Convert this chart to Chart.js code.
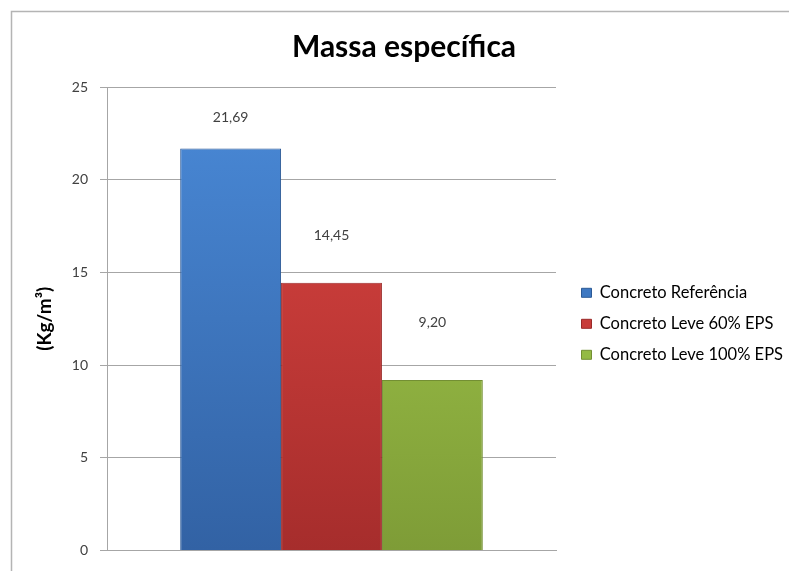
<!DOCTYPE html>
<html>
<head>
<meta charset="utf-8">
<script src="https://cdn.jsdelivr.net/npm/chart.js@4.4.1/dist/chart.umd.min.js"></script>
<style>
  html, body { margin: 0; padding: 0; background: #fff; }
</style>
</head>
<body>
<canvas id="massa-chart" width="789" height="571"></canvas>
<script>
var seriesNames = ['Concreto Referência', 'Concreto Leve 60% EPS', 'Concreto Leve 100% EPS'];
var seriesValues = [21.69, 14.45, 9.20];
var yTicks = [0, 5, 10, 15, 20, 25];

// excel 2007 style shading, top -> bottom
var topColors = ['#4a8ad8', '#de4642', '#a8d04e'];
var bottomColors = ['#3262a4', '#a62d2c', '#7e9c37'];
var midColors = ['#3e78c2', '#c83c3a', '#94ba44'];
var edgeColors = ['#2c5a96', '#9a2a28', '#738f33'];
var labelOffsets = [31, 47, 58];

function barGradient(i) {
  return function(context) {
    var chart = context.chart;
    var area = chart.chartArea;
    if (!area) return midColors[i];
    var g = chart.ctx.createLinearGradient(0, area.top, 0, area.bottom);
    g.addColorStop(0, topColors[i]);
    g.addColorStop(1, bottomColors[i]);
    return g;
  };
}

var datasets = [];
for (var i = 0; i < seriesNames.length; i++) {
  datasets.push({
    label: seriesNames[i],
    data: [seriesValues[i]],
    backgroundColor: barGradient(i),
    borderColor: edgeColors[i],
    borderWidth: 1,
    barPercentage: 1,
    categoryPercentage: 0.674
  });
}

// grey frame round the chart (only left/top are visible in the crop)
var framePlugin = {
  id: 'frame',
  beforeDraw: function(chart) {
    var ctx = chart.ctx;
    ctx.save();
    ctx.fillStyle = '#ffffff';
    ctx.fillRect(0, 0, chart.width, chart.height);
    ctx.strokeStyle = '#b4b4b4';
    ctx.lineWidth = 1.5;
    ctx.strokeRect(11.5, 11.5, chart.width + 20, chart.height + 20);
    ctx.restore();
  }
};

// legend centred on the plot area, title nudged left like the original
var placeBoxes = {
  id: 'placeBoxes',
  afterLayout: function(chart) {
    var lg = chart.legend;
    lg.top = chart.chartArea.top + 10;
    lg.bottom = chart.chartArea.bottom;
    lg.left += 4;
    lg.right += 4;
    chart.titleBlock.left -= 14;
  }
};

// value labels above the bars
var valueLabels = {
  id: 'valueLabels',
  afterDatasetsDraw: function(chart) {
    var ctx = chart.ctx;
    ctx.save();
    ctx.font = '14px Lato';
    ctx.fillStyle = '#404040';
    ctx.textAlign = 'center';
    ctx.textBaseline = 'middle';
    chart.data.datasets.forEach(function(ds, i) {
      var bar = chart.getDatasetMeta(i).data[0];
      var txt = ds.data[0].toFixed(2).replace('.', ',');
      ctx.fillText(txt, bar.x, bar.y - labelOffsets[i]);
    });
    ctx.restore();
  }
};

var ctx = document.getElementById('massa-chart').getContext('2d');
var chart = new Chart(ctx, {
  type: 'bar',
  data: {
    labels: [''],
    datasets: datasets
  },
  plugins: [framePlugin, placeBoxes, valueLabels],
  options: {
    responsive: false,
    animation: false,
    layout: { padding: { left: 33, right: 0, top: 0, bottom: 15 } },
    plugins: {
      title: {
        display: true,
        text: 'Massa específica',
        color: '#000000',
        font: { family: 'Lato', size: 30, weight: 'bold' },
        padding: { top: 29, bottom: 22 }
      },
      legend: {
        position: 'right',
        align: 'center',
        maxWidth: 400,
        labels: {
          color: '#404040',
          font: { family: 'Lato', size: 16.5 },
          boxWidth: 10,
          boxHeight: 9,
          padding: 14.5,
          generateLabels: function(chart) {
            return chart.data.datasets.map(function(ds, i) {
              return {
                text: ds.label,
                fillStyle: midColors[i],
                strokeStyle: edgeColors[i],
                lineWidth: 1,
                datasetIndex: i
              };
            });
          }
        }
      },
      tooltip: { enabled: false }
    },
    scales: {
      x: {
        grid: { display: false },
        border: { display: true, color: '#a6a6a6' },
        ticks: { display: false },
        afterFit: function(s) { s.height = 0; }
      },
      y: {
        min: 0,
        max: 25,
        afterBuildTicks: function(s) {
          s.ticks = yTicks.map(function(v) { return { value: v }; });
        },
        grid: { color: '#a6a6a6', tickLength: 7, lineWidth: 1 },
        border: { display: true, color: '#a6a6a6' },
        ticks: {
          color: '#404040',
          font: { family: 'Lato', size: 14 },
          padding: 12
        },
        title: {
          display: true,
          text: '(Kg/m³)',
          color: '#000000',
          font: { family: 'Lato', size: 19, weight: 'bold' },
          padding: { top: 0, bottom: 20 }
        },
        afterFit: function(s) { s.width = 74; }
      },
      y2: {
        position: 'right',
        display: true,
        grid: { display: false },
        border: { display: false },
        ticks: { display: false },
        afterFit: function(s) { s.width = 7; }
      }
    }
  }
});
</script>
</body>
</html>
